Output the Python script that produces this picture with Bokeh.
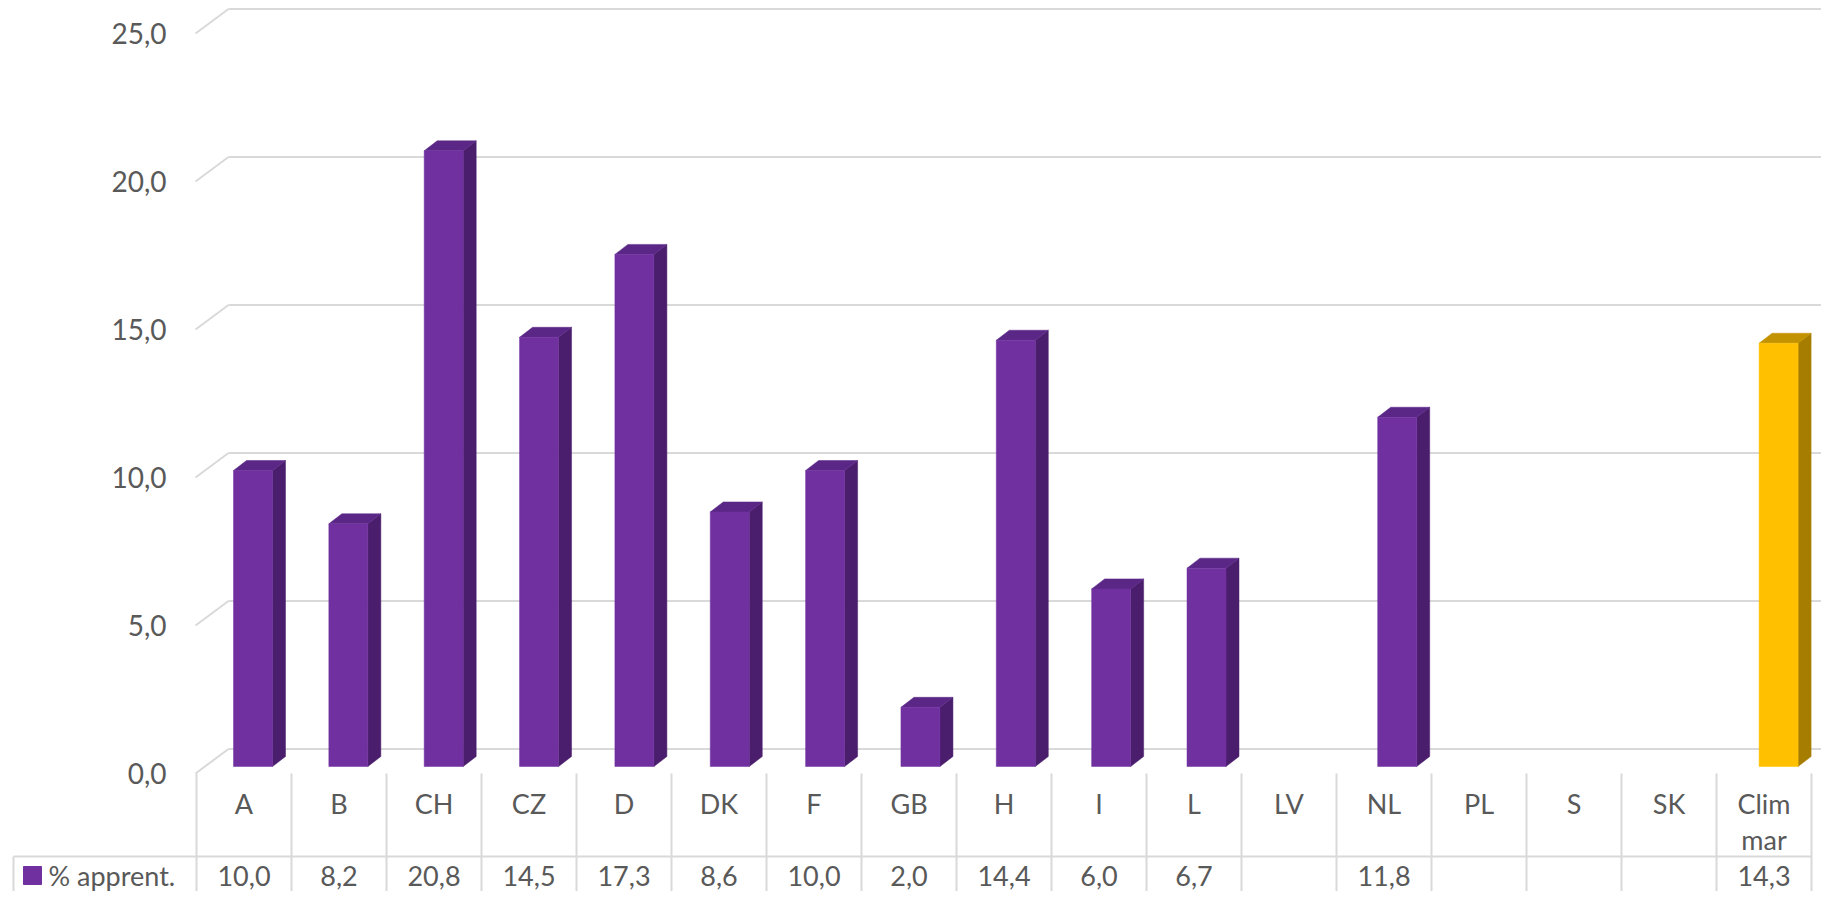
from bokeh.plotting import figure
from bokeh.models import Range1d
from bokeh.core.properties import value
from bokeh.embed import file_html
from bokeh.resources import INLINE

# ---------------- data ----------------
categories = ["A", "B", "CH", "CZ", "D", "DK", "F", "GB", "H", "I", "L",
              "LV", "NL", "PL", "S", "SK", "Clim\nmar"]
values = [10.0, 8.2, 20.8, 14.5, 17.3, 8.6, 10.0, 2.0, 14.4, 6.0, 6.7,
          None, 11.8, None, None, None, 14.3]
y_ticks = [0, 5, 10, 15, 20, 25]
y_tick_labels = ["0,0", "5,0", "10,0", "15,0", "20,0", "25,0"]
series_name = "% apprent."
highlight_category = "Clim\nmar"

# ---------------- style / geometry ----------------
PX_X = 95.0      # pixels per category cell
PX_Y = 29.6      # pixels per value unit
W, H = 1821, 891
X0_REF, Y0_REF = 196.0, 773.0

def dx(px):
    return px / PX_X

def dy(px):
    return px / PX_Y

FONT = value("Lato")
TEXT_COLOR = "#595959"
GRID_COLOR = "#D9D9D9"
PURPLE = ("#7030A0", "#4A1E6C", "#5B2787")
GOLD = ("#FFC000", "#A67D00", "#C39200")

x_start = dx(0 - X0_REF)
x_end = dx(W - X0_REF)
y_top = dy(Y0_REF - 0)
y_bottom = dy(Y0_REF - H)

p = figure(width=W, height=H, output_backend="svg", toolbar_location=None,
           x_range=Range1d(x_start, x_end), y_range=Range1d(y_bottom, y_top),
           min_border=0, min_border_left=0, min_border_right=0,
           min_border_top=0, min_border_bottom=0)
p.axis.visible = False
p.grid.visible = False
p.outline_line_color = None
p.background_fill_color = "white"
p.border_fill_color = "white"

n = len(categories)

# ---------------- walls / gridlines ----------------
depth_x = dx(32)
depth_y = dy(24.5)
p.segment(x0=[depth_x] * len(y_ticks), y0=[t + depth_y for t in y_ticks],
          x1=[x_end + 1] * len(y_ticks), y1=[t + depth_y for t in y_ticks],
          line_color=GRID_COLOR, line_width=2)
p.segment(x0=[dx(-1)] * len(y_ticks), y0=y_ticks,
          x1=[depth_x] * len(y_ticks), y1=[t + depth_y for t in y_ticks],
          line_color=GRID_COLOR, line_width=2)

# y tick labels
p.text(x=[dx(-30)] * len(y_ticks), y=y_ticks, text=y_tick_labels,
       text_font=FONT, text_font_size="28px", text_color=TEXT_COLOR,
       text_align="right", text_baseline="middle")

# ---------------- bars (3D) ----------------
bar_w = dx(39)
side_dx = dx(13)
side_dy = dy(10)
base = dy(7)
front_l, front_r, front_b, front_t, fcol = [], [], [], [], []
side_xs, side_ys, scol = [], [], []
top_xs, top_ys, tcol = [], [], []
for i, (c, v) in enumerate(zip(categories, values)):
    if v is None:
        continue
    cols = GOLD if c == highlight_category else PURPLE
    xl = dx(37 + i * 95.35)
    xr = xl + bar_w
    yb = base
    yt = base + v
    front_l.append(xl); front_r.append(xr); front_b.append(yb); front_t.append(yt)
    fcol.append(cols[0])
    side_xs.append([xr, xr + side_dx, xr + side_dx, xr])
    side_ys.append([yb, yb + side_dy, yt + side_dy, yt])
    scol.append(cols[1])
    top_xs.append([xl, xr, xr + side_dx, xl + side_dx])
    top_ys.append([yt, yt, yt + side_dy, yt + side_dy])
    tcol.append(cols[2])

p.patches(xs=side_xs, ys=side_ys, fill_color=scol, line_color=scol, line_width=0.5)
p.patches(xs=top_xs, ys=top_ys, fill_color=tcol, line_color=tcol, line_width=0.5)
p.quad(left=front_l, right=front_r, bottom=front_b, top=front_t,
       fill_color=fcol, line_color=fcol, line_width=0.5)

# ---------------- data table ----------------
table_line_y = dy(Y0_REF - 856)
p.segment(x0=[dx(13 - X0_REF)], y0=[table_line_y], x1=[n], y1=[table_line_y],
          line_color=GRID_COLOR, line_width=2)
p.segment(x0=list(range(n + 1)), y0=[0] * (n + 1),
          x1=list(range(n + 1)), y1=[y_bottom - 1] * (n + 1),
          line_color=GRID_COLOR, line_width=2)
p.segment(x0=[dx(13 - X0_REF)], y0=[table_line_y],
          x1=[dx(13 - X0_REF)], y1=[y_bottom - 1],
          line_color=GRID_COLOR, line_width=2)

# category labels (multi-line split)
lab_x, lab_y, lab_t = [], [], []
for i, c in enumerate(categories):
    for j, line in enumerate(c.split("\n")):
        lab_x.append(i + 0.5)
        lab_y.append(dy(Y0_REF - (803 + 36 * j)))
        lab_t.append(line)
p.text(x=lab_x, y=lab_y, text=lab_t, text_font=FONT, text_font_size="27px",
       text_color=TEXT_COLOR, text_align="center", text_baseline="middle")

# values row
val_x = [i + 0.5 for i, v in enumerate(values) if v is not None]
val_t = [f"{v:.1f}".replace(".", ",") for v in values if v is not None]
val_y = dy(Y0_REF - 875)
p.text(x=val_x, y=[val_y] * len(val_x), text=val_t, text_font=FONT,
       text_font_size="27px", text_color=TEXT_COLOR, text_align="center",
       text_baseline="middle")

# legend key in table
p.quad(left=[dx(23 - X0_REF)], right=[dx(41 - X0_REF)],
       top=[dy(Y0_REF - 866)], bottom=[dy(Y0_REF - 884)],
       fill_color=PURPLE[0], line_color=PURPLE[0])
p.text(x=[dx(48 - X0_REF)], y=[val_y], text=[series_name], text_font=FONT,
       text_font_size="27px", text_color=TEXT_COLOR, text_align="left",
       text_baseline="middle")

open("out.html", "w").write(file_html(p, INLINE))
